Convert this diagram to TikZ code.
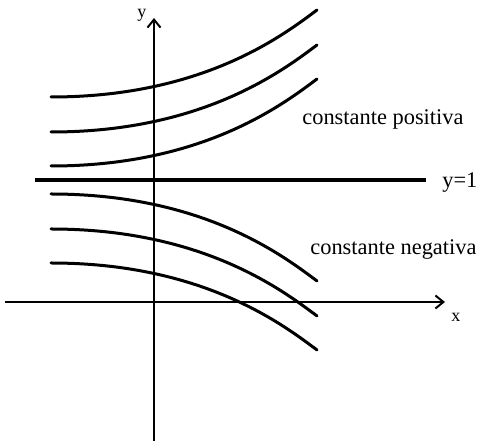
\documentclass[tikz,border=0pt]{standalone}
\usepackage{fontspec}
\setmainfont{Liberation Serif}
\usetikzlibrary{arrows.meta}

\begin{document}
\begin{tikzpicture}[x=0.5pt,y=-0.5pt,every node/.style={font=\fontsize{11.2}{13}\selectfont,inner sep=0pt}]
    \tikzset{
      axis/.style={line width=1pt,-{Straight Barb[length=4pt,width=6.5pt,line width=1pt]}},
      sol/.style={line width=1.5pt,line cap=round},
      equil/.style={line width=2.2pt},
      axlbl/.style={font=\fontsize{9}{11}\selectfont}
    }
    % #1,#2: left end, #3: +1 below y=1, -1 above it
    \newcommand{\solcurve}[3]{%
      \draw[sol] (#1,#2) .. controls (#1+150,#2) and (#1+230,#2+#3*60) .. (#1+266,#2+#3*87);
    }
    \useasboundingbox (0,0) rectangle (477,448);

    % axes
    \coordinate (xbeg) at (5,302);
    \coordinate (xend) at (445,302);
    \coordinate (ybeg) at (154,441);
    \coordinate (yend) at (154,18);
    \draw[axis] (xbeg) -- (xend);
    \draw[axis] (ybeg) -- (yend);
    \node[axlbl,anchor=base west] (xlbl) at (451,322) {x};
    \node[axlbl,anchor=base west] (ylbl) at (137,18) {y};

    % equilibrium solution
    \coordinate (eqbeg) at (35,180);
    \coordinate (eqend) at (426,180);
    \draw[equil] (eqbeg) -- (eqend);
    \node[anchor=base west] (eqlbl) at (442,188) {y=1};

    % positive constant
    \solcurve{51}{97}{-1}
    \solcurve{51}{132}{-1}
    \solcurve{51}{166}{-1}
    \node[anchor=base west] (poslbl) at (302,125) {constante positiva};

    % negative constant
    \solcurve{51}{194}{1}
    \solcurve{51}{229}{1}
    \solcurve{51}{263}{1}
    \node[anchor=base west] (neglbl) at (310,255) {constante negativa};
\end{tikzpicture}
\end{document}
